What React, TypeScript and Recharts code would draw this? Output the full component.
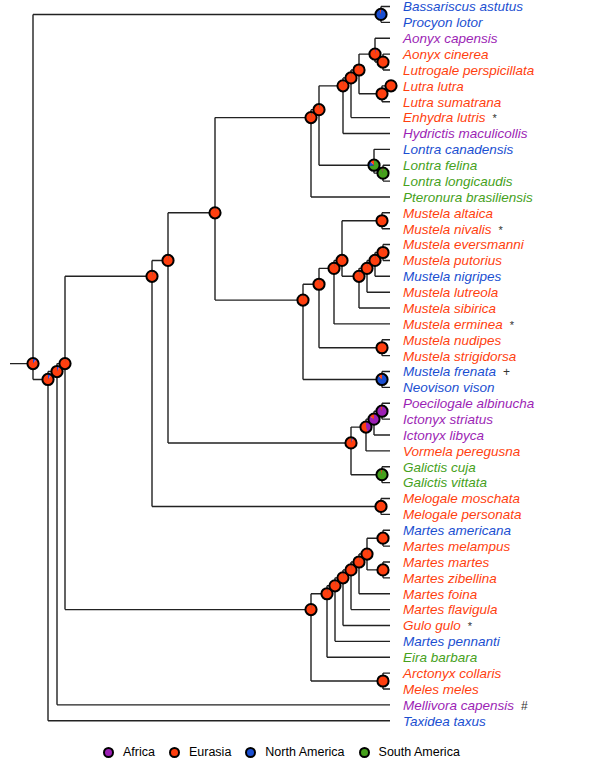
import React from 'react';
import { ComposedChart, Line, Scatter, XAxis, YAxis, Legend } from 'recharts';

// ---- data ----
const regionNames = ['Africa', 'Eurasia', 'North America', 'South America'];
const regionColors = ['#9c1fb5', '#ff3f0f', '#1b4fd1', '#46a11c'];

const leafNames = [
  'Bassariscus astutus', 'Procyon lotor', 'Aonyx capensis', 'Aonyx cinerea',
  'Lutrogale perspicillata', 'Lutra lutra', 'Lutra sumatrana', 'Enhydra lutris',
  'Hydrictis maculicollis', 'Lontra canadensis', 'Lontra felina', 'Lontra longicaudis',
  'Pteronura brasiliensis', 'Mustela altaica', 'Mustela nivalis', 'Mustela eversmanni',
  'Mustela putorius', 'Mustela nigripes', 'Mustela lutreola', 'Mustela sibirica',
  'Mustela erminea', 'Mustela nudipes', 'Mustela strigidorsa', 'Mustela frenata',
  'Neovison vison', 'Poecilogale albinucha', 'Ictonyx striatus', 'Ictonyx libyca',
  'Vormela peregusna', 'Galictis cuja', 'Galictis vittata', 'Melogale moschata',
  'Melogale personata', 'Martes americana', 'Martes melampus', 'Martes martes',
  'Martes zibellina', 'Martes foina', 'Martes flavigula', 'Gulo gulo',
  'Martes pennanti', 'Eira barbara', 'Arctonyx collaris', 'Meles meles',
  'Mellivora capensis', 'Taxidea taxus',
];
// 0 Africa, 1 Eurasia, 2 North America, 3 South America
const leafRegions = [
  2, 2, 0, 1, 1, 1, 1, 1, 0, 2, 3, 3, 3, 1, 1, 1, 1, 2, 1, 1, 1, 1, 1, 2,
  2, 0, 0, 0, 1, 3, 3, 1, 1, 2, 1, 1, 1, 1, 1, 1, 2, 3, 1, 1, 0, 2,
];
const leafMarks: Record<number, string> = { 7: '*', 14: '*', 20: '*', 23: '+', 39: '*', 44: '#' };

const tipDepth = 380;
const stemDepth = 0;
const defaultPie = [0.005, 0.98, 0.005, 0.01]; // [Af, Eu, NA, SA]

type NodeDef = { id: string; depth: number; kids: (number | string)[]; pie?: number[] };
const treeNodes: NodeDef[] = [
  { id: 'root', depth: 23, kids: ['procyonid', 'mustelidae'], pie: [0.04, 0.88, 0.08, 0] },
  { id: 'procyonid', depth: 371, kids: [0, 1], pie: [0, 0.04, 0.96, 0] },
  { id: 'mustelidae', depth: 38, kids: ['n57', 45], pie: [0.03, 0.9, 0.07, 0] },
  { id: 'n57', depth: 47, kids: ['n65', 44], pie: [0.03, 0.92, 0.05, 0] },
  { id: 'n65', depth: 55, kids: ['n152', 'guloMel'], pie: [0.005, 0.985, 0.005, 0.005] },
  { id: 'n152', depth: 142, kids: ['n168', 'melogale'], pie: [0.005, 0.975, 0.005, 0.015] },
  { id: 'n168', depth: 158, kids: ['n215', 'ictonych'] },
  { id: 'n215', depth: 205, kids: ['lutrinae', 'mustelinae'] },
  { id: 'lutrinae', depth: 301, kids: ['n309', 12], pie: [0.005, 0.97, 0.005, 0.02] },
  { id: 'n309', depth: 309, kids: ['n333', 'lontra'], pie: [0.005, 0.97, 0.005, 0.02] },
  { id: 'n333', depth: 333, kids: ['n341', 8] },
  { id: 'n341', depth: 341, kids: ['n349', 7] },
  { id: 'n349', depth: 349, kids: ['aonyx', 'lutra'] },
  { id: 'aonyx', depth: 365, kids: [2, 'aonyx2'], pie: [0.03, 0.96, 0, 0.01] },
  { id: 'aonyx2', depth: 373, kids: [3, 4], pie: [0.005, 0.99, 0, 0.005] },
  { id: 'lutra', depth: 372, kids: ['lutraL', 6], pie: [0, 1, 0, 0] },
  { id: 'lutraL', depth: 381, kids: [5], pie: [0, 1, 0, 0] },
  { id: 'lontra', depth: 364, kids: [9, 'lontra2'], pie: [0.01, 0.12, 0.15, 0.72] },
  { id: 'lontra2', depth: 373, kids: [10, 11], pie: [0, 0.02, 0.01, 0.97] },
  { id: 'mustelinae', depth: 293, kids: ['m309', 'frenata'] },
  { id: 'm309', depth: 309, kids: ['m324', 'nudipes'] },
  { id: 'm324', depth: 324, kids: ['m332', 20] },
  { id: 'm332', depth: 332, kids: ['altaica', 'm349'] },
  { id: 'altaica', depth: 372, kids: [13, 14], pie: [0, 1, 0, 0] },
  { id: 'm349', depth: 349, kids: ['m357', 19] },
  { id: 'm357', depth: 357, kids: ['m365', 18] },
  { id: 'm365', depth: 365, kids: ['m373', 17] },
  { id: 'm373', depth: 373, kids: [15, 16] },
  { id: 'nudipes', depth: 372, kids: [21, 22], pie: [0, 1, 0, 0] },
  { id: 'frenata', depth: 372, kids: [23, 24], pie: [0, 0.12, 0.88, 0] },
  { id: 'ictonych', depth: 341, kids: ['ict356', 'galictis'], pie: [0.05, 0.92, 0, 0.03] },
  { id: 'ict356', depth: 356, kids: ['ict364', 28], pie: [0.45, 0.55, 0, 0] },
  { id: 'ict364', depth: 364, kids: ['ict372', 27], pie: [0.85, 0.15, 0, 0] },
  { id: 'ict372', depth: 372, kids: [25, 26], pie: [0.96, 0.04, 0, 0] },
  { id: 'galictis', depth: 372, kids: [29, 30], pie: [0, 0.03, 0, 0.97] },
  { id: 'melogale', depth: 371, kids: [31, 32], pie: [0, 1, 0, 0] },
  { id: 'guloMel', depth: 301, kids: ['g317', 'melinae'] },
  { id: 'g317', depth: 317, kids: ['g325', 41] },
  { id: 'g325', depth: 325, kids: ['g333', 40] },
  { id: 'g333', depth: 333, kids: ['g341', 39] },
  { id: 'g341', depth: 341, kids: ['g349', 38] },
  { id: 'g349', depth: 349, kids: ['g357', 37] },
  { id: 'g357', depth: 357, kids: ['mart1', 'mart2'] },
  { id: 'mart1', depth: 373, kids: [33, 34], pie: [0, 1, 0, 0] },
  { id: 'mart2', depth: 373, kids: [35, 36], pie: [0, 1, 0, 0] },
  { id: 'melinae', depth: 373, kids: [42, 43], pie: [0, 1, 0, 0] },
];

// ---- derived ----
const nodeMap = new Map(treeNodes.map((n) => [n.id, n]));
const leavesOf = (k: number | string): number[] =>
  typeof k === 'number' ? [k] : (nodeMap.get(k) as NodeDef).kids.flatMap(leavesOf);
const yOf = (k: number | string) => {
  const ls = leavesOf(k);
  return ls.reduce((a, b) => a + b, 0) / ls.length;
};
const xOf = (k: number | string) => (typeof k === 'number' ? tipDepth : (nodeMap.get(k) as NodeDef).depth);

const branchData: { x: number; y: number | null }[] = [];
const seg = (x1: number, y1: number, x2: number, y2: number) => {
  branchData.push({ x: x1, y: y1 }, { x: x2, y: y2 }, { x: x2, y: null });
};
seg(stemDepth, yOf('root'), xOf('root'), yOf('root'));
treeNodes.forEach((n) => {
  const ys = n.kids.map(yOf);
  if (ys.length > 1) seg(n.depth, Math.min(...ys), n.depth, Math.max(...ys));
  n.kids.forEach((k) => seg(n.depth, yOf(k), xOf(k), yOf(k)));
});

const nodePoints = treeNodes.map((n) => ({ x: n.depth, y: yOf(n.id), pie: n.pie || defaultPie }));
const leafTicks = leafNames.map((_, i) => i);

const FONT = '"Liberation Sans", Arial, sans-serif';
const sliceOrder = [3, 2, 0, 1]; // clockwise from 12 o'clock

const PieNode = (props: any) => {
  const { cx, cy, payload } = props;
  if (cx == null || cy == null) return null;
  const r = 5.6;
  const pie: number[] = payload.pie;
  const total = pie.reduce((a, b) => a + b, 0);
  let a0 = 0;
  const paths: React.ReactNode[] = [];
  sliceOrder.forEach((ri) => {
    const v = pie[ri] / total;
    if (v <= 0) return;
    if (v >= 0.9999) {
      paths.push(<circle key={ri} cx={cx} cy={cy} r={r} fill={regionColors[ri]} />);
      return;
    }
    const a1 = a0 + v * Math.PI * 2;
    const p0 = [cx + r * Math.sin(a0), cy - r * Math.cos(a0)];
    const p1 = [cx + r * Math.sin(a1), cy - r * Math.cos(a1)];
    const large = a1 - a0 > Math.PI ? 1 : 0;
    paths.push(
      <path
        key={ri}
        d={`M${cx},${cy}L${p0[0]},${p0[1]}A${r},${r} 0 ${large} 1 ${p1[0]},${p1[1]}Z`}
        fill={regionColors[ri]}
      />
    );
    a0 = a1;
  });
  return (
    <g>
      {paths}
      <circle cx={cx} cy={cy} r={r} fill="none" stroke="#000" strokeWidth={2} />
    </g>
  );
};

const LeafTick = (props: any) => {
  const { x, y, payload } = props;
  const i = payload.value as number;
  const mark = leafMarks[i];
  return (
    <text
      x={x + 12}
      y={y}
      dy="0.36em"
      fontFamily={FONT}
      fontSize={13.5}
      fontStyle="italic"
      fill={regionColors[leafRegions[i]]}
    >
      {leafNames[i]}
      {mark ? (
        <tspan dx={7} fontStyle="normal" fontSize={mark === '*' ? 11 : 12} fill="#333">
          {mark}
        </tspan>
      ) : null}
    </text>
  );
};

const renderLegend = () => (
  <div
    style={{
      display: 'flex',
      alignItems: 'center',
      height: 24,
      paddingLeft: 103,
      fontFamily: FONT,
      fontSize: 12.5,
      color: '#000',
    }}
  >
    {regionNames.map((name, i) => (
      <div key={name} style={{ display: 'flex', alignItems: 'center', marginRight: 14 }}>
        <div
          style={{
            width: 11,
            height: 11,
            boxSizing: 'border-box',
            borderRadius: '50%',
            border: '2px solid #000',
            background: regionColors[i],
            marginRight: 9,
          }}
        />
        <span>{name}</span>
      </div>
    ))}
  </div>
);

export default function App() {
  return (
    <div style={{ position: 'absolute', left: 0, top: 0, background: '#fff' }}>
      <ComposedChart width={600} height={765} margin={{ top: 6.5, right: 0, bottom: 20.3, left: 10 }}>
        <XAxis type="number" dataKey="x" domain={[0, 381]} hide />
        <YAxis
          type="number"
          dataKey="y"
          orientation="right"
          width={209}
          domain={[0, 45]}
          reversed
          ticks={leafTicks}
          interval={0}
          axisLine={false}
          tickLine={false}
          tickSize={0}
          tickMargin={0}
          tick={<LeafTick />}
        />
        <Line
          data={branchData}
          dataKey="y"
          stroke="#222"
          strokeWidth={1.4}
          dot={false}
          activeDot={false}
          connectNulls={false}
          isAnimationActive={false}
        />
        <Scatter data={nodePoints} dataKey="y" shape={<PieNode />} isAnimationActive={false} />
        <Legend
          verticalAlign="bottom"
          content={renderLegend}
          wrapperStyle={{ top: 740, bottom: 'auto', left: 0, width: 600 }}
        />
      </ComposedChart>
    </div>
  );
}
